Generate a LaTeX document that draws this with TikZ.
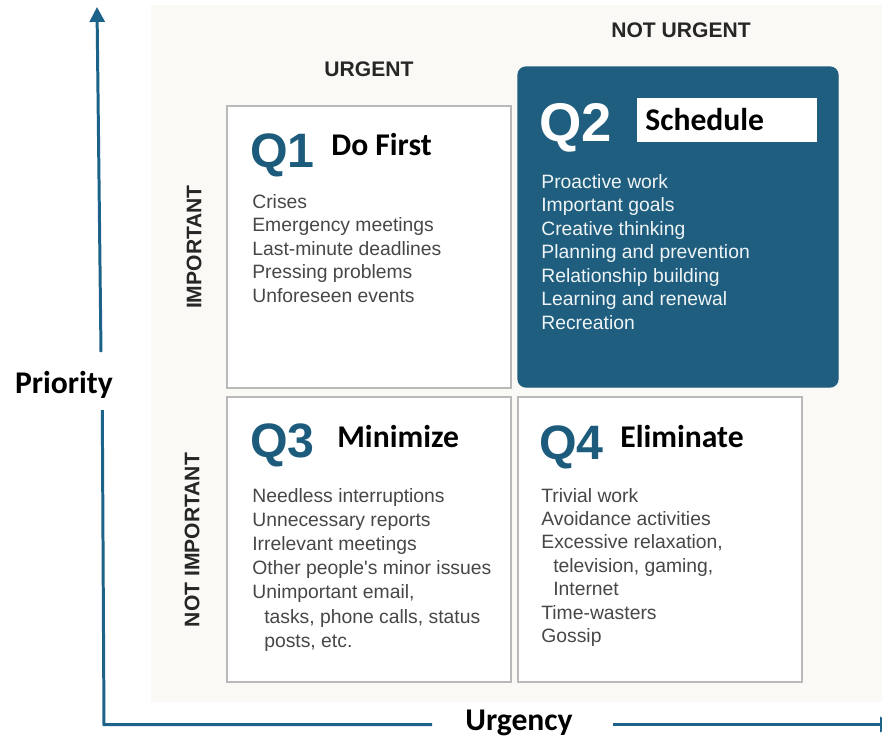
\documentclass[tikz,border=0pt]{standalone}
\usepackage{fontspec}
\usetikzlibrary{arrows.meta}
\newfontfamily\helv{Liberation Sans}
\newfontfamily\cali{Carlito}
\definecolor{axisblue}{HTML}{1D6288}
\definecolor{qblue}{HTML}{1D5B7C}
\definecolor{qfill}{HTML}{1F5E7E}
\definecolor{itemgray}{HTML}{474747}
\definecolor{cream}{HTML}{FAF9F5}

\begin{document}
\begin{tikzpicture}[x=0.02cm,y=-0.02cm]
        \tikzstyle{quad} = [draw=gray!55, line width=0.7pt, fill=white]
        \tikzstyle{qnum} = [font=\helv\bfseries\fontsize{27.5}{30}\selectfont, text=qblue, anchor=base west, inner sep=0]
        \tikzstyle{qname} = [font=\cali\bfseries\fontsize{18}{20}\selectfont, anchor=base west, inner sep=0]
        \tikzstyle{item} = [font=\helv\fontsize{11}{13}\selectfont, text=itemgray, anchor=base west, inner sep=0]
        \tikzstyle{head} = [font=\helv\bfseries\fontsize{12}{14}\selectfont, text=black!85, inner sep=0]
        \tikzstyle{axis} = [draw=axisblue, line width=1.7pt]
        \tikzstyle{axislabel} = [font=\cali\bfseries\fontsize{18}{20}\selectfont, inner sep=0]

        \useasboundingbox (0,0) rectangle (882,738);
        \fill[cream] (151,5) rectangle (882,702);

        % the four quadrants
        \draw[quad] (227,106) rectangle (511,388);
        \draw[quad, draw=qfill, fill=qfill, rounded corners=4.5pt] (518,67) rectangle (838,387);
        \draw[quad] (227,397) rectangle (511,682);
        \draw[quad] (518,397) rectangle (802,682);

        \node[head, anchor=base] (urgent) at (369,76){URGENT};
        \node[head, anchor=base] (noturgent) at (681,37){NOT URGENT};
        \node[head, rotate=90] (important) at (194,247){IMPORTANT};
        \node[head, rotate=90] (notimportant) at (192,540){NOT IMPORTANT};

        % titles
        \node[qnum] (q1) at (250,167){Q1};
        \node[qname] (q1name) at (331,155){Do First};
        \node[qnum, text=white, font=\helv\bfseries\fontsize{31}{33}\selectfont] (q2) at (539,141){Q2};
        \fill[white] (637,98) rectangle (817,142);
        \node[qname] (q2name) at (645,130){Schedule};
        \node[qnum] (q3) at (250,457){Q3};
        \node[qname] (q3name) at (337,447){Minimize};
        \node[qnum] (q4) at (539,459){Q4};
        \node[qname] (q4name) at (620,447){Eliminate};

        % lists
        \foreach \t [count=\i from 0] in {Crises, Emergency meetings, Last-minute deadlines, Pressing problems, Unforeseen events}
            \node[item] (q1-\i) at (252,208+23.5*\i){\t};
        \foreach \t [count=\i from 0] in {Proactive work, Important goals, Creative thinking, Planning and prevention, Relationship building, Learning and renewal, Recreation}
            \node[item, text=white!93!qfill] (q2-\i) at (541,188+23.5*\i){\t};
        \foreach \t [count=\i from 0] in {Needless interruptions, Unnecessary reports, Irrelevant meetings, Other people's minor issues, {Unimportant email,}, {\hspace*{6.8pt}tasks, phone calls, status}, {\hspace*{6.8pt}posts, etc.}}
            \node[item] (q3-\i) at (252,502+24.2*\i){\t};
        \foreach \t [count=\i from 0] in {Trivial work, Avoidance activities, {Excessive relaxation,}, {\hspace*{6.8pt}television, gaming,}, \hspace*{6.8pt}Internet, Time-wasters, Gossip}
            \node[item] (q4-\i) at (541,502+23.4*\i){\t};

        % axes
        \coordinate (o) at (104,726);
        \coordinate (ylow) at (102.3,410);
        \coordinate (yhigh) at (101,352);
        \coordinate (ytop) at (97,7);
        \coordinate (xleft) at (432,724.5);
        \coordinate (xright) at (613,724.5);
        \coordinate (xend) at (895,724.5);
        \node[axislabel] (priority) at (64,385){Priority};
        \node[axislabel, anchor=base] (urgency) at (519,730){Urgency};
        \draw[axis] (o) -- (ylow);
        \draw[axis, -{Triangle[length=8.5pt,width=8.5pt]}] (yhigh) -- (ytop);
        \draw[axis] (o) ++(1,-1.5) -- (xleft);
        \draw[axis, -{Triangle[length=8.5pt,width=8.5pt]}] (xright) -- (xend);

    \end{tikzpicture}
\end{document}
